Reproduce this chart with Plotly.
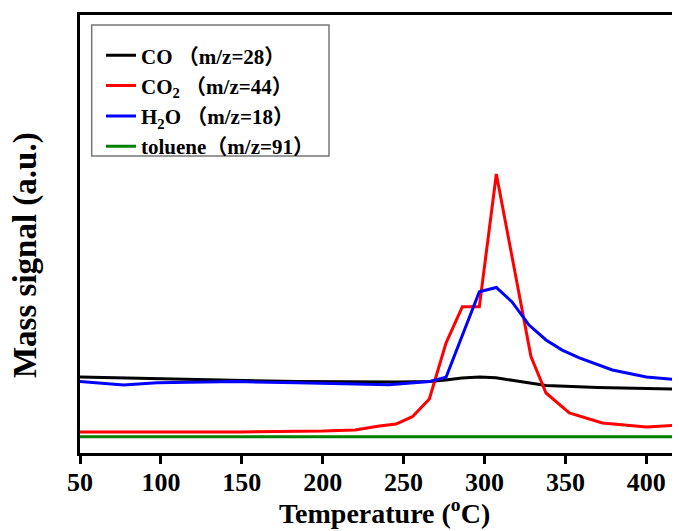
import plotly.graph_objects as go

# Temperature (°C) sample points and mass signals (a.u.)
co_x = [50, 100, 147, 184, 246, 266, 276, 286, 297, 307, 317, 328, 338, 370, 421]
co_y = [17.35, 17.0, 16.67, 16.3, 16.2, 16.3, 16.67, 17.1, 17.35, 17.2, 16.6, 16.0, 15.4, 14.95, 14.6]

co2_x = [50, 100, 150, 200, 220, 235, 245.3, 255.4, 265.9, 276.2, 286.3, 296.8, 307.3, 328.7, 338, 352.4, 372.8, 400, 421]
co2_y = [4.79, 4.79, 4.8, 5.0, 5.25, 6.16, 6.62, 8.29, 12.33, 25.1, 33.4, 33.4, 63.7, 22.0, 13.7, 9.13, 6.85, 5.94, 6.39]

h2o_x = [50, 77, 97.6, 147, 184, 241, 265.9, 276.2, 296.8, 307.3, 317, 327.5, 338, 348, 358.6, 379, 400, 421]
h2o_y = [16.3, 15.5, 16.05, 16.3, 16.05, 15.6, 16.3, 17.3, 36.8, 37.8, 34.5, 29.2, 25.8, 23.5, 21.7, 18.95, 17.35, 16.67]

tol_x = [50, 421]
tol_y = [3.72, 3.72]

x_ticks = [50, 100, 150, 200, 250, 300, 350, 400]

FONT = "Liberation Serif, Noto Sans CJK SC, serif"

fig = go.Figure()
fig.add_trace(go.Scatter(x=co_x, y=co_y, mode="lines", name="<b>CO （m/z=28）</b>",
                         line=dict(color="#000000", width=3)))
fig.add_trace(go.Scatter(x=co2_x, y=co2_y, mode="lines", name="<b>CO<sub>2</sub> （m/z=44）</b>",
                         line=dict(color="#ff0000", width=3)))
fig.add_trace(go.Scatter(x=h2o_x, y=h2o_y, mode="lines", name="<b>H<sub>2</sub>O （m/z=18）</b>",
                         line=dict(color="#0000ff", width=3)))
fig.add_trace(go.Scatter(x=tol_x, y=tol_y, mode="lines", name="<b>toluene（m/z=91）</b>",
                         line=dict(color="#008000", width=3)))

fig.update_layout(
    width=672, height=523,
    margin=dict(l=72, r=0, t=7, b=78, autoexpand=False),
    paper_bgcolor="white", plot_bgcolor="white",
    font=dict(family=FONT, color="black"),
    showlegend=True,
    legend=dict(
        x=0.035, y=0.954, xanchor="left", yanchor="top",
        bgcolor="rgba(0,0,0,0)", borderwidth=0,
        font=dict(family=FONT, size=21, color="black"),
        tracegroupgap=0, itemwidth=30,
    ),
    shapes=[
        dict(type="rect", xref="paper", yref="paper", x0=0.0195, x1=0.415, y0=0.678, y1=0.977,
             line=dict(color="#777777", width=1.5), fillcolor="white", layer="below"),
    ],
    xaxis=dict(
        range=[50, 420.8], tickvals=x_ticks, ticktext=[f"<b>{v}</b>" for v in x_ticks],
        showline=True, linecolor="black", linewidth=2.5, mirror=True,
        ticks="outside", ticklen=8, tickwidth=2.5, tickcolor="black",
        showgrid=False, zeroline=False, automargin=False,
        ticklabelstandoff=-4,
        tickfont=dict(family=FONT, size=26, color="black"),
    ),
    yaxis=dict(
        range=[0, 100], showticklabels=False, ticks="",
        showline=True, linecolor="black", linewidth=2.5, mirror=False,
        showgrid=False, zeroline=False, automargin=False,
    ),
    annotations=[
        dict(text="<b>Temperature (<sup>o</sup>C)</b>", xref="paper", yref="paper",
             x=0.508, y=0, yshift=-58, xanchor="center", yanchor="middle", showarrow=False,
             font=dict(family=FONT, size=28, color="black")),
        dict(text="<b>Mass signal (a.u.)</b>", xref="paper", yref="paper",
             x=0, y=0.452, xshift=-55, xanchor="center", yanchor="middle", showarrow=False,
             textangle=-90, font=dict(family=FONT, size=33, color="black")),
    ],
)

fig.write_html("out.html")
